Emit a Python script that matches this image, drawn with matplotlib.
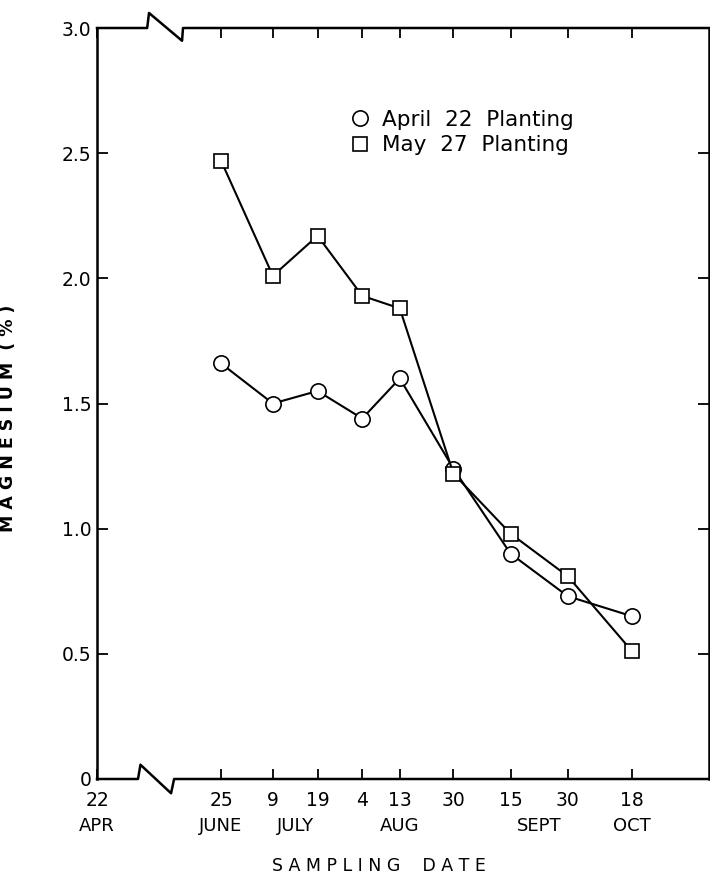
import numpy as np
import matplotlib.pyplot as plt
from matplotlib.lines import Line2D
from matplotlib.transforms import blended_transform_factory

plt.rcParams['font.family'] = ['DejaVu Sans']

# Sampling dates, as days after 22 April (positions as drawn on the figure)
sample_day = [64, 78.5, 91, 103.5, 114, 129, 145, 161, 179]
day_labels = ['25', '9', '19', '4', '13', '30', '15', '30', '18']
start_day = 29.3          # 22 APR, at the (broken) left end of the axis
end_day = 200.5

# Month labels: (text, index of the date ticks they sit under)
months = [('JUNE', [0]), ('JULY', [1, 2]), ('AUG', [4]), ('SEPT', [6, 7]), ('OCT', [8])]

# Magnesium (%)
mg_april22 = [1.66, 1.50, 1.55, 1.44, 1.60, 1.24, 0.90, 0.73, 0.65]
mg_may27 = [2.47, 2.01, 2.17, 1.93, 1.88, 1.22, 0.98, 0.81, 0.51]

fig = plt.figure(figsize=(7.1, 8.74), dpi=100)
ax = fig.add_axes([97 / 710, 95 / 874, 612 / 710, 751 / 874])

lw = 1.5
ax.plot(sample_day, mg_april22, color='black', lw=lw, marker='o', ms=11,
        mfc='white', mec='black', mew=1.2, zorder=3)
ax.plot(sample_day, mg_may27, color='black', lw=lw, marker='s', ms=9.5,
        mfc='white', mec='black', mew=1.2, zorder=3)

ax.set_xlim(start_day, end_day)
ax.set_ylim(0, 3.0)

# axes frame: left/right spines plain, top/bottom with a break
for s in ['top', 'bottom']:
    ax.spines[s].set_visible(False)
for s in ['left', 'right']:
    ax.spines[s].set_linewidth(1.8)

bx = [0, 0.067, 0.071, 0.121, 0.126, 1]
ax.plot(bx, [0, 0, 0.019, -0.019, 0, 0], transform=ax.transAxes,
        color='black', lw=1.8, clip_on=False, zorder=4)
tx = [0, 0.082, 0.085, 0.139, 0.1405, 1]
ax.plot(tx, [1, 1, 1.02, 0.983, 1, 1], transform=ax.transAxes,
        color='black', lw=1.8, clip_on=False, zorder=4)

# ticks
yt = np.arange(0, 3.01, 0.5)
ax.set_yticks(yt)
ax.set_yticklabels(['0'] + ['%.1f' % v for v in yt[1:]])
ax.set_xticks([start_day] + sample_day)
ax.set_xticklabels(['22'] + day_labels)
ax.tick_params(axis='both', direction='in', top=True, right=True,
               width=1.3, labelsize=13.5)
ax.tick_params(axis='x', length=7, pad=9)
ax.tick_params(axis='y', length=8, pad=4)

# month row under the day numbers
trans = blended_transform_factory(ax.transData, ax.transAxes)
ax.text(start_day, -0.062, 'APR', transform=trans, ha='center', va='center',
        fontsize=13)
for name, idx in months:
    xm = np.mean([sample_day[i] for i in idx])
    ax.text(xm, -0.062, name, transform=trans, ha='center', va='center',
            fontsize=13)

ax.text(0.46, -0.116, 'S A M P L I N G    D A T E', transform=ax.transAxes,
        ha='center', va='center', fontsize=12.5)
ax.set_ylabel('M A G N E S I U M  ( % )', fontsize=12.5, fontweight='bold')
ax.yaxis.set_label_coords(-0.131, 0.48)

handles = [Line2D([], [], ls='none', marker='o', ms=11, mfc='white', mec='black', mew=1.2),
           Line2D([], [], ls='none', marker='s', ms=9.5, mfc='white', mec='black', mew=1.2)]
ax.legend(handles, ['April  22  Planting', 'May  27  Planting'], loc='upper left',
          bbox_to_anchor=(0.377, 0.917), frameon=False, fontsize=15.5,
          handletextpad=0.4, labelspacing=0.25, handlelength=1.2)

fig.savefig('out.png', dpi=100)
